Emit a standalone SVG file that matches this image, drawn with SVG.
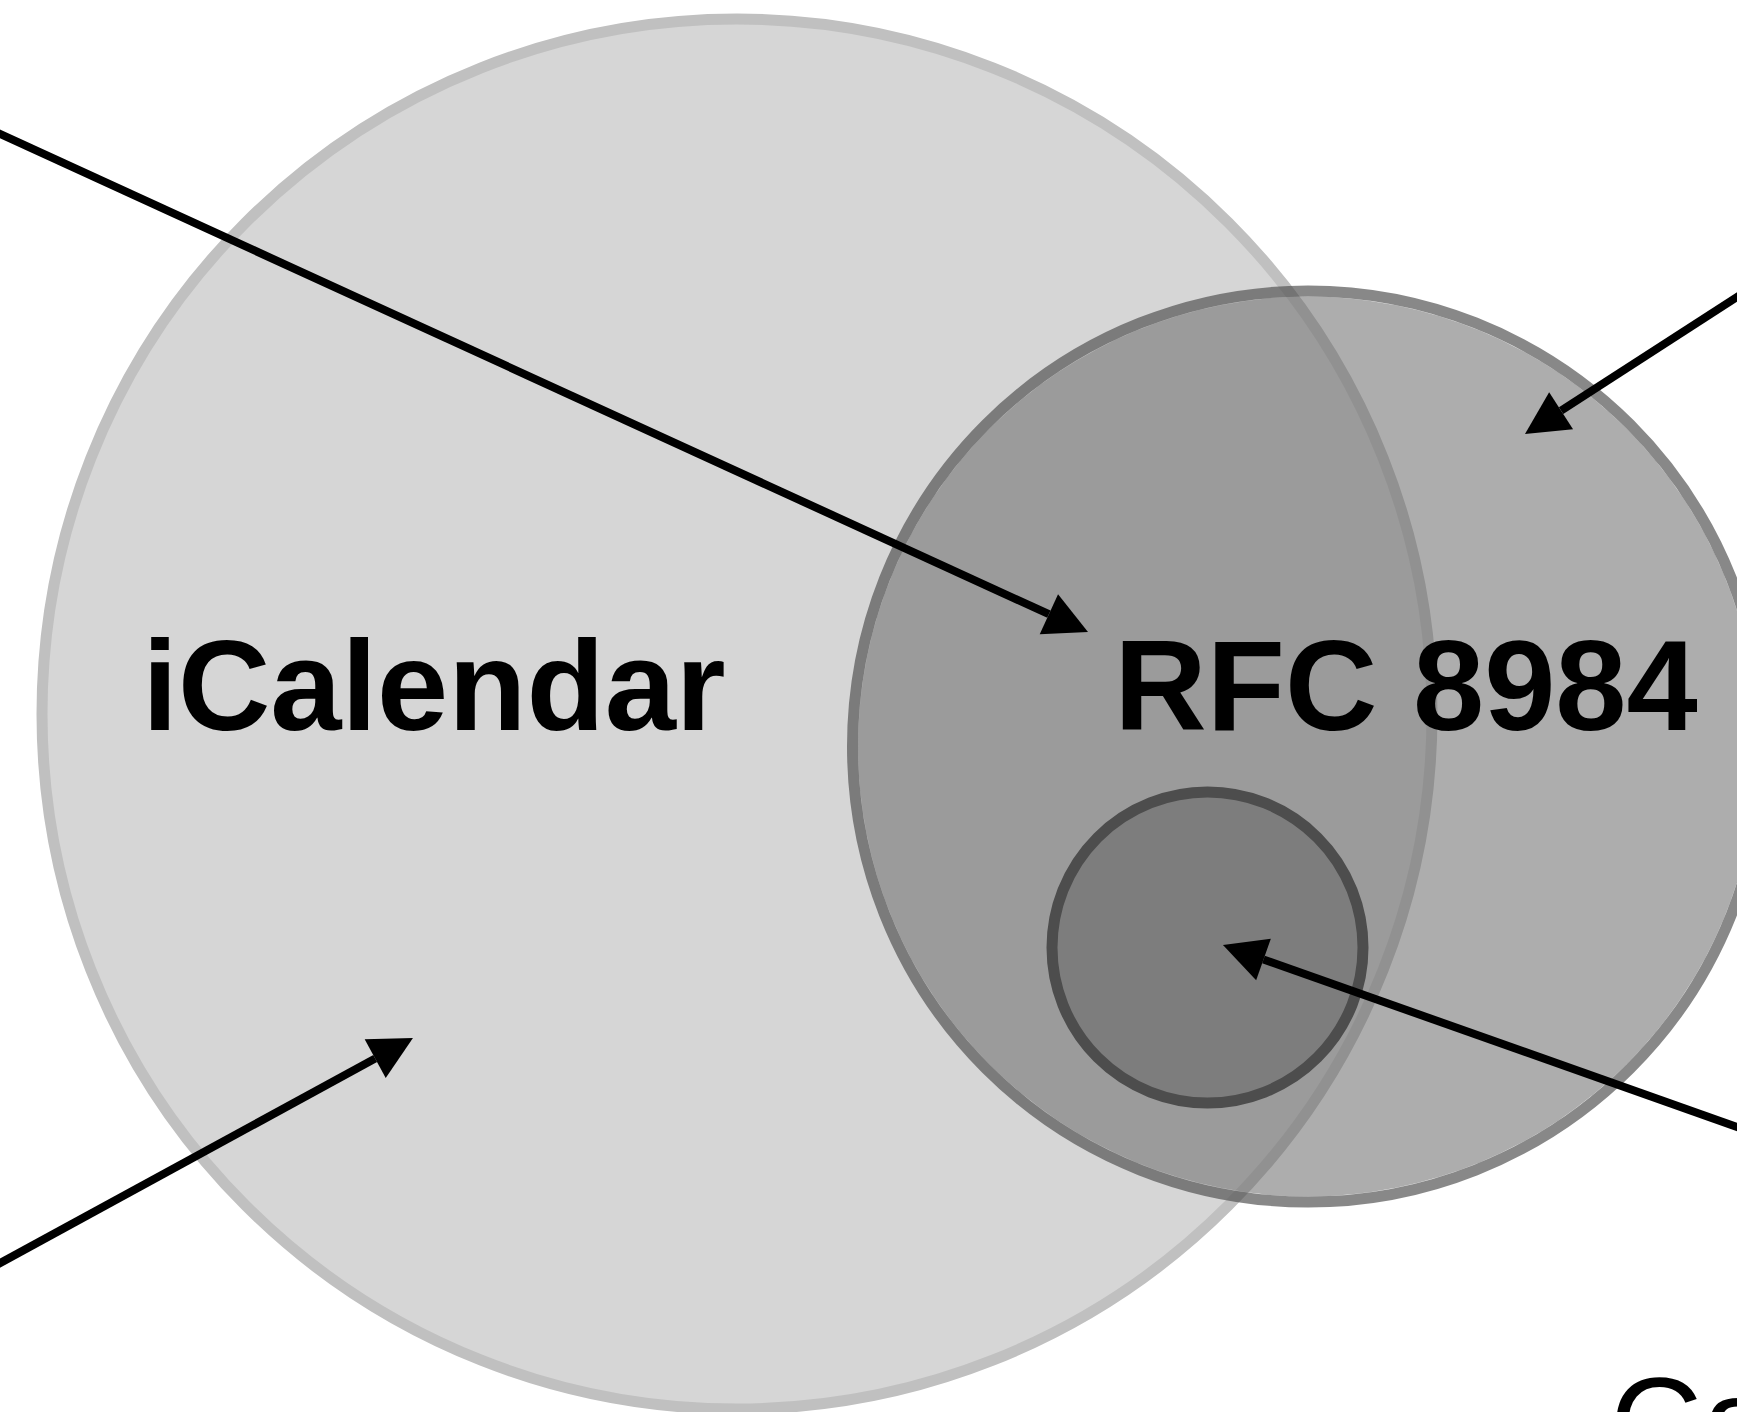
<svg xmlns="http://www.w3.org/2000/svg" width="1737" height="1412" viewBox="0 0 1737 1412">
  <style>
    .label { font-family: "Liberation Sans", Arial, Helvetica, sans-serif; font-weight: bold; font-size: 128px; fill: #000; }
    .label2 { font-family: "Liberation Sans", Arial, Helvetica, sans-serif; font-weight: normal; font-size: 128px; fill: #000; }
    .conn { stroke: #000; stroke-width: 8; fill: none; marker-end: url(#arrow); }
  </style>
  <defs>
    <marker id="arrow" markerUnits="userSpaceOnUse" markerWidth="50" markerHeight="50" refX="0" refY="0" orient="auto" overflow="visible">
      <path d="M0,-22 L43,0 L0,22 z" fill="#000"/>
    </marker>
  </defs>
  <rect width="1737" height="1412" fill="#ffffff"/>

  <g id="icalendar">
    <circle cx="737" cy="714" r="695" fill="#d6d6d6" stroke="#c0c0c0" stroke-width="11"/>
    <text class="label" x="434" y="730" text-anchor="middle">iCalendar</text>
  </g>

  <g id="rfc8984">
    <circle cx="1308" cy="746.5" r="450" fill="#6c6c6c" opacity="0.56"/>
    <circle cx="1308" cy="746.5" r="455.5" fill="none" stroke="#4f4f4f" stroke-width="11" opacity="0.68"/>
  </g>

  <g id="inner">
    <circle cx="1207.5" cy="947.5" r="155.5" fill="#7d7d7d" stroke="#4d4d4d" stroke-width="11"/>
  </g>

  <g id="rfc8984-label">
    <text class="label" x="1406" y="730" text-anchor="middle">RFC 8984</text>
  </g>

  <g id="ca-label">
    <text class="label2" x="1610" y="1467">Ca</text>
  </g>

  <g id="connectors">
    <line class="conn" x1="-20" y1="124.8" x2="1048.9" y2="614.2"/>
    <line class="conn" x1="1757" y1="284" x2="1561.1" y2="410.7"/>
    <line class="conn" x1="1757" y1="1134" x2="1263.5" y2="959.4"/>
    <line class="conn" x1="-20" y1="1274" x2="375.2" y2="1058.6"/>
  </g>
</svg>
